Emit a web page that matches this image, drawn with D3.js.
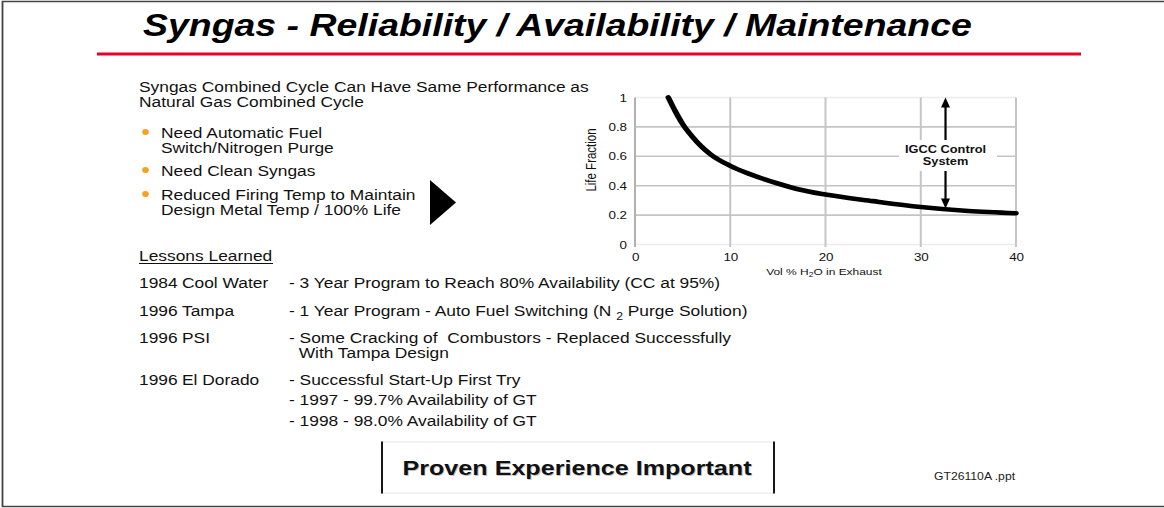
<!DOCTYPE html>
<html>
<head>
<meta charset="utf-8">
<script src="https://cdn.jsdelivr.net/npm/d3@7"></script>
<style>
  body { margin: 0; background: #fff; }
  svg { display: block; font-family: "Liberation Sans", Arial, sans-serif; }
</style>
</head>
<body>
<div id="slide"></div>
<script>
// curve: life fraction vs vol % H2O
const waterPct = [3.5, 4.2, 5, 6, 7, 8, 10, 12, 15, 17, 20, 25, 30, 35, 40]
const lifeFraction = [1.0, 0.91, 0.82, 0.735, 0.665, 0.61, 0.535, 0.48, 0.415, 0.378, 0.34, 0.295, 0.255, 0.228, 0.213]
const xTicks = [0, 10, 20, 30, 40]
const yTicks = [0, 0.2, 0.4, 0.6, 0.8, 1]
const yTickLabels = ['0', '0.2', '0.4', '0.6', '0.8', '1']
const controlAt = 32.6   // x of the "IGCC Control System" arrow
const controlTop = 1.0
const controlBottom = 0.245

const title = 'Syngas - Reliability / Availability / Maintenance'
const intro = ['Syngas Combined Cycle Can Have Same Performance as', 'Natural Gas Combined Cycle']
const bullets = [
    ['Need Automatic Fuel', 'Switch/Nitrogen Purge'],
    ['Need Clean Syngas'],
    ['Reduced Firing Temp to Maintain', 'Design Metal Temp / 100% Life']
]
const lessonYears = ['1984', '1996', '1996', '1996']
const lessonPlants = ['Cool Water', 'Tampa', 'PSI', 'El Dorado']
const lessonNotes = [
    ['- 3 Year Program to Reach 80% Availability (CC at 95%)'],
    ['- 1 Year Program - Auto Fuel Switching (N|2|Purge Solution)'],
    ['- Some Cracking of  Combustors - Replaced Successfully', '  With Tampa Design'],
    ['- Successful Start-Up First Try', '- 1997 - 99.7% Availability of GT', '- 1998 - 98.0% Availability of GT']
]

// the slide is stretched sideways, so draw in a narrower space and stretch it
const SX = 1.22
const W = 1164, H = 508
const px = x => x / SX

const svg = d3.select('#slide').append('svg')
    .attr('width', W).attr('height', H)
    .attr('viewBox', `0 0 ${W / SX} ${H}`)
    .attr('preserveAspectRatio', 'none')

// frame
svg.append('path')
    .attr('d', `M${px(W)},1.5 H${px(2.5)} V506.5 H${px(W)}`)
    .attr('fill', 'none').attr('stroke', '#444').attr('stroke-width', 1.5)

svg.append('text')
    .attr('x', px(143)).attr('y', 36.5)
    .attr('font-size', 30.7).attr('font-weight', 'bold').attr('font-style', 'italic')
    .text(title)

svg.append('line')
    .attr('x1', px(97)).attr('x2', px(1081)).attr('y1', 54).attr('y2', 54)
    .attr('stroke', '#e8002a').attr('stroke-width', 3)

// left text block
const left = svg.append('g').attr('font-size', 14.25).attr('fill', '#111')
intro.forEach((t, i) => {
    left.append('text').attr('x', px(139)).attr('y', 92 + i * 15.5).text(t)
})
const bulletTop = [138, 176, 200]
bullets.forEach((lines, i) => {
    left.append('ellipse')
        .attr('cx', px(145.5)).attr('cy', bulletTop[i] - 6)
        .attr('rx', px(3.3)).attr('ry', 3).attr('fill', '#f5a21c')
    lines.forEach((t, j) => {
        left.append('text').attr('x', px(161)).attr('y', bulletTop[i] + j * 15.5).text(t)
    })
})
svg.append('path')
    .attr('d', `M${px(430)},180 L${px(456)},202.5 L${px(430)},225 Z`)
    .attr('fill', '#000')

left.append('text').attr('x', px(139)).attr('y', 261).text('Lessons Learned')
left.append('line')
    .attr('x1', px(139)).attr('x2', px(273)).attr('y1', 263.5).attr('y2', 263.5)
    .attr('stroke', '#111').attr('stroke-width', 1)

const rowY = [288.5, 316.5, 343.5, 385]
lessonYears.forEach((yr, i) => {
    left.append('text').attr('x', px(139)).attr('y', rowY[i]).text(yr)
    left.append('text').attr('x', px(182)).attr('y', rowY[i]).text(lessonPlants[i])
    lessonNotes[i].forEach((t, j) => {
        const txt = left.append('text')
            .attr('x', px(289)).attr('y', rowY[i] + j * (i === 2 ? 14.5 : 20.5))
            .attr('xml:space', 'preserve')
        const parts = t.split('|')
        if (parts.length === 3) {
            txt.append('tspan').text(parts[0] + ' ')
            txt.append('tspan').attr('font-size', 10).attr('dy', 4).text(parts[1])
            txt.append('tspan').attr('dy', -4).text(' ' + parts[2])
        } else {
            txt.text(t)
        }
    })
})

// boxed remark
svg.append('rect')
    .attr('x', px(382)).attr('y', 442).attr('width', px(774 - 382)).attr('height', 51)
    .attr('fill', 'none').attr('stroke', '#e6e6e6').attr('stroke-width', 1)
svg.selectAll('.boxSide').data([382, 774]).enter().append('line')
    .attr('x1', d => px(d)).attr('x2', d => px(d)).attr('y1', 441.5).attr('y2', 493.5)
    .attr('stroke', '#111').attr('stroke-width', 1.6)
svg.append('text')
    .attr('x', px(577) + 0.7).attr('y', 475.7).attr('text-anchor', 'middle')
    .attr('font-size', 20.6).attr('font-weight', 'bold').attr('fill', '#c4c4c4')
    .text('Proven Experience Important')
svg.append('text')
    .attr('x', px(577)).attr('y', 475).attr('text-anchor', 'middle')
    .attr('font-size', 20.6).attr('font-weight', 'bold').attr('fill', '#111')
    .text('Proven Experience Important')
svg.append('text')
    .attr('x', px(934)).attr('y', 480).attr('font-size', 10).attr('fill', '#222')
    .text('GT26110A .ppt')

// chart
const xScale = d3.scaleLinear().domain([0, 40]).range([px(635), px(1016)])
const yScale = d3.scaleLinear().domain([0, 1]).range([244.5, 97.5])

const chart = svg.append('g')
chart.selectAll('.hgrid').data(yTicks).enter().append('line')
    .attr('x1', xScale(0)).attr('x2', xScale(40))
    .attr('y1', d => yScale(d)).attr('y2', d => yScale(d))
    .attr('stroke', d => (d === 0 || d === 1) ? '#ececec' : '#c4c4c4')
    .attr('stroke-width', 1.6)
chart.selectAll('.vgrid').data(xTicks).enter().append('line')
    .attr('x1', d => xScale(d)).attr('x2', d => xScale(d))
    .attr('y1', yScale(1)).attr('y2', yScale(0) + 2.5)
    .attr('stroke', d => d === 0 ? '#b0b0b0' : '#c4c4c4')
    .attr('stroke-width', 1.6)

const yAxis = d3.axisLeft(yScale).tickValues(yTicks)
    .tickFormat((d, i) => yTickLabels[i]).tickSize(0).tickPadding(6.5)
chart.append('g').attr('transform', `translate(${xScale(0)},0)`).call(yAxis)
    .call(g => g.select('.domain').remove())
    .selectAll('text').attr('font-size', 11).attr('font-family', null).attr('fill', '#111')

const xAxis = d3.axisBottom(xScale).tickValues(xTicks).tickFormat(d3.format('d'))
    .tickSize(0).tickPadding(8.5)
chart.append('g').attr('transform', `translate(0,${yScale(0)})`).call(xAxis)
    .call(g => g.select('.domain').remove())
    .selectAll('text').attr('font-size', 11).attr('font-family', null).attr('fill', '#111')

const xLabel = chart.append('text')
    .attr('x', px(824)).attr('y', 275).attr('text-anchor', 'middle')
    .attr('font-size', 9.8).attr('fill', '#111')
xLabel.append('tspan').text('Vol % H')
xLabel.append('tspan').attr('font-size', 7).attr('dy', 2.5).text('2')
xLabel.append('tspan').attr('dy', -2.5).text('O in Exhaust')

chart.append('text')
    .attr('transform', `translate(${px(596)},160) rotate(-90)`)
    .attr('text-anchor', 'middle').attr('font-size', 11.5).attr('fill', '#111')
    .text('Life Fraction')

const line = d3.line()
    .x((d, i) => xScale(waterPct[i]))
    .y(d => yScale(d))
    .curve(d3.curveMonotoneX)
chart.append('path')
    .datum(lifeFraction)
    .attr('d', line)
    .attr('fill', 'none').attr('stroke', '#000')
    .attr('stroke-width', 4.6).attr('stroke-linecap', 'round').attr('stroke-linejoin', 'round')

// IGCC control annotation
const ax = xScale(controlAt)
const labelTop = 140, labelBottom = 171
chart.append('rect')
    .attr('x', px(899)).attr('y', labelTop).attr('width', px(997 - 899)).attr('height', labelBottom - labelTop)
    .attr('fill', '#fff')
chart.append('line')
    .attr('x1', ax).attr('x2', ax).attr('y1', yScale(controlTop) + 8).attr('y2', labelTop)
    .attr('stroke', '#000').attr('stroke-width', 1.8)
chart.append('line')
    .attr('x1', ax).attr('x2', ax).attr('y1', labelBottom).attr('y2', yScale(controlBottom) - 8)
    .attr('stroke', '#000').attr('stroke-width', 1.8)
chart.append('path')
    .attr('d', `M${ax},${yScale(controlTop)} L${ax - px(4.5)},${yScale(controlTop) + 10} L${ax + px(4.5)},${yScale(controlTop) + 10} Z`)
    .attr('fill', '#000')
chart.append('path')
    .attr('d', `M${ax},${yScale(controlBottom)} L${ax - px(4.5)},${yScale(controlBottom) - 10} L${ax + px(4.5)},${yScale(controlBottom) - 10} Z`)
    .attr('fill', '#000')
const note = chart.append('text').attr('text-anchor', 'middle')
    .attr('font-size', 10.5).attr('font-weight', 'bold').attr('fill', '#111')
note.append('tspan').attr('x', ax).attr('y', 153).text('IGCC Control')
note.append('tspan').attr('x', ax).attr('y', 165.5).text('System')
</script>
</body>
</html>
